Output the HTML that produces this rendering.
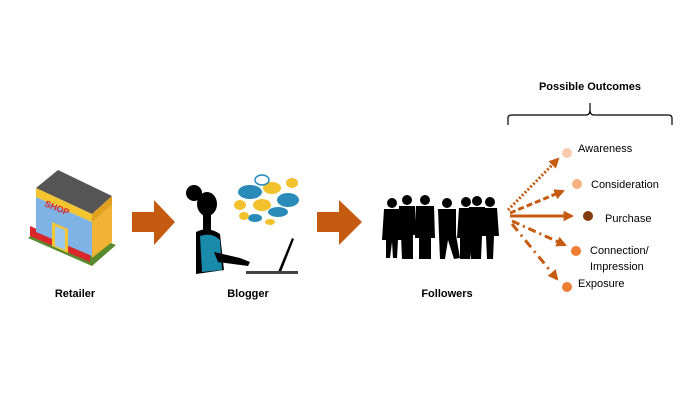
<!DOCTYPE html>
<html><head><style>
html,body{margin:0;padding:0;background:#fff;}
svg{display:block;}
text{font-family:"Liberation Sans",sans-serif;}
</style></head><body>
<svg width="698" height="400" viewBox="0 0 698 400" xmlns="http://www.w3.org/2000/svg">
<defs>
<marker id="ah" viewBox="0 0 10 10" refX="8" refY="5" markerWidth="3.5" markerHeight="3.5" orient="auto"><path d="M0,0 L10,5 L0,10 z" fill="#c55a11"/></marker>
</defs>
<!-- Shop -->
<polygon points="28,238 92,266 116,245 52,220" fill="#5a8a2e"/>
<polygon points="30,236 90,262 90,252 30,226" fill="#d9262a"/>
<polygon points="36,197 92,222 92,256 36,232" fill="#7fb2e5"/>
<polygon points="92,222 112,205 112,242 92,258" fill="#f2b233"/>
<polygon points="36,188 58,170 112,196 92,214" fill="#555"/>
<polygon points="36,188 92,214 92,222 36,197" fill="#f5c431"/>
<polygon points="92,214 112,196 112,205 92,222" fill="#e0a020"/>
<text x="44" y="206" font-size="9" font-weight="bold" fill="#d9262a" transform="rotate(22 44 206)">SHOP</text>
<polygon points="52,222 68,229 68,253 52,246" fill="#f5c431"/>
<polygon points="55,226 65,230 65,250 55,246" fill="#9cc8ee"/>
<!-- Arrow 1 -->
<polygon points="132,212 154,212 154,200 175,222 154,245 154,232 132,232" fill="#c55a11"/>
<!-- Blogger -->
<g fill="#000">
<circle cx="194" cy="193" r="8"/>
<ellipse cx="207" cy="204" rx="10" ry="12"/>
<rect x="203" y="214" width="8" height="16"/>
<path d="M196,232 Q208,226 220,234 L224,270 L196,274 Z"/>
</g>
<path d="M200,236 Q212,232 220,240 L222,270 L202,272 Z" fill="#1a8aab"/>
<path d="M214,252 L240,258 L250,262 L248,266 L218,262 Z" fill="#000"/>
<path d="M278,272 L292,238 L294,239 L281,272 Z" fill="#000"/>
<rect x="246" y="271" width="52" height="3" fill="#444"/>
<g>
<ellipse cx="250" cy="192" rx="12" ry="7" fill="#2a8bb8"/>
<ellipse cx="272" cy="188" rx="9" ry="6" fill="#f2c12e"/>
<ellipse cx="288" cy="200" rx="11" ry="7" fill="#2a8bb8"/>
<ellipse cx="262" cy="205" rx="9" ry="6" fill="#f2c12e"/>
<ellipse cx="240" cy="205" rx="6" ry="5" fill="#f2c12e"/>
<ellipse cx="278" cy="212" rx="10" ry="5" fill="#2a8bb8"/>
<ellipse cx="292" cy="183" rx="6" ry="5" fill="#f2c12e"/>
<ellipse cx="255" cy="218" rx="7" ry="4" fill="#2a8bb8"/>
<ellipse cx="262" cy="180" rx="7" ry="5" fill="none" stroke="#2a8bb8" stroke-width="1.5"/>
<ellipse cx="244" cy="216" rx="5" ry="4" fill="#f2c12e"/>
<ellipse cx="270" cy="222" rx="5" ry="3" fill="#f2c12e"/>
</g>
<!-- Arrow 2 -->
<polygon points="317,212 339,212 339,200 362,222 339,245 339,232 317,232" fill="#c55a11"/>
<!-- Followers -->
<g fill="#000">
<circle cx="392" cy="203" r="5"/><path d="M384,209 L400,209 L402,240 L398,240 L397,258 L393,258 L392,242 L390,258 L386,258 L386,240 L382,240 Z"/>
<circle cx="407" cy="200" r="5"/><path d="M399,206 L415,206 L416,235 L413,235 L413,259 L402,259 L401,235 L398,235 Z"/>
<circle cx="425" cy="200" r="5"/><path d="M416,206 L434,206 L435,238 L431,238 L431,259 L419,259 L419,238 L415,238 Z"/>
<circle cx="447" cy="203" r="5"/><path d="M438,209 L456,209 L456,235 L460,258 L454,259 L448,240 L445,259 L440,259 L439,235 Z"/>
<circle cx="466" cy="202" r="5"/><path d="M459,208 L472,208 L473,238 L470,259 L460,259 L460,238 L457,238 Z"/>
<circle cx="477" cy="201" r="5"/><path d="M469,207 L485,207 L486,236 L482,236 L481,259 L471,259 L470,236 Z"/>
<circle cx="490" cy="202" r="5"/><path d="M483,208 L497,208 L499,236 L494,236 L493,259 L487,259 L486,236 L482,236 Z"/>
</g>
<!-- Labels -->
<text x="75" y="297" font-size="11" font-weight="bold" text-anchor="middle">Retailer</text>
<text x="248" y="297" font-size="11" font-weight="bold" text-anchor="middle">Blogger</text>
<text x="447" y="297" font-size="11" font-weight="bold" text-anchor="middle">Followers</text>
<!-- Outcomes -->
<text x="590" y="90" font-size="11" font-weight="bold" text-anchor="middle">Possible Outcomes</text>
<path d="M508,125 L508,118 Q508,115 512,115 L586,115 Q590,115 590,110 L590,103 M590,110 Q590,115 594,115 L668,115 Q672,115 672,118 L672,125" fill="none" stroke="#000" stroke-width="1.2"/>
<g stroke="#c55a11" stroke-width="3" fill="none" marker-end="url(#ah)">
<line x1="508" y1="210" x2="558" y2="159" stroke-dasharray="2,2"/>
<line x1="510" y1="213" x2="563" y2="191" stroke-dasharray="6,3"/>
<line x1="510" y1="216" x2="572" y2="216"/>
<line x1="512" y1="221" x2="565" y2="245" stroke-dasharray="8,4,2,4"/>
<line x1="512" y1="224" x2="557" y2="279" stroke-dasharray="9,5,2,5"/>
</g>
<circle cx="567" cy="153" r="5" fill="#f8cbad"/>
<circle cx="577" cy="184" r="5" fill="#f4b183"/>
<circle cx="588" cy="216" r="5" fill="#843c0c"/>
<circle cx="576" cy="251" r="5" fill="#ed7d31"/>
<circle cx="567" cy="287" r="5" fill="#ed7d31"/>
<g font-size="11" fill="#000">
<text x="578" y="152">Awareness</text>
<text x="591" y="188">Consideration</text>
<text x="605" y="222">Purchase</text>
<text x="590" y="254">Connection/</text>
<text x="590" y="270">Impression</text>
<text x="578" y="287">Exposure</text>
</g>
</svg>
</body></html>
